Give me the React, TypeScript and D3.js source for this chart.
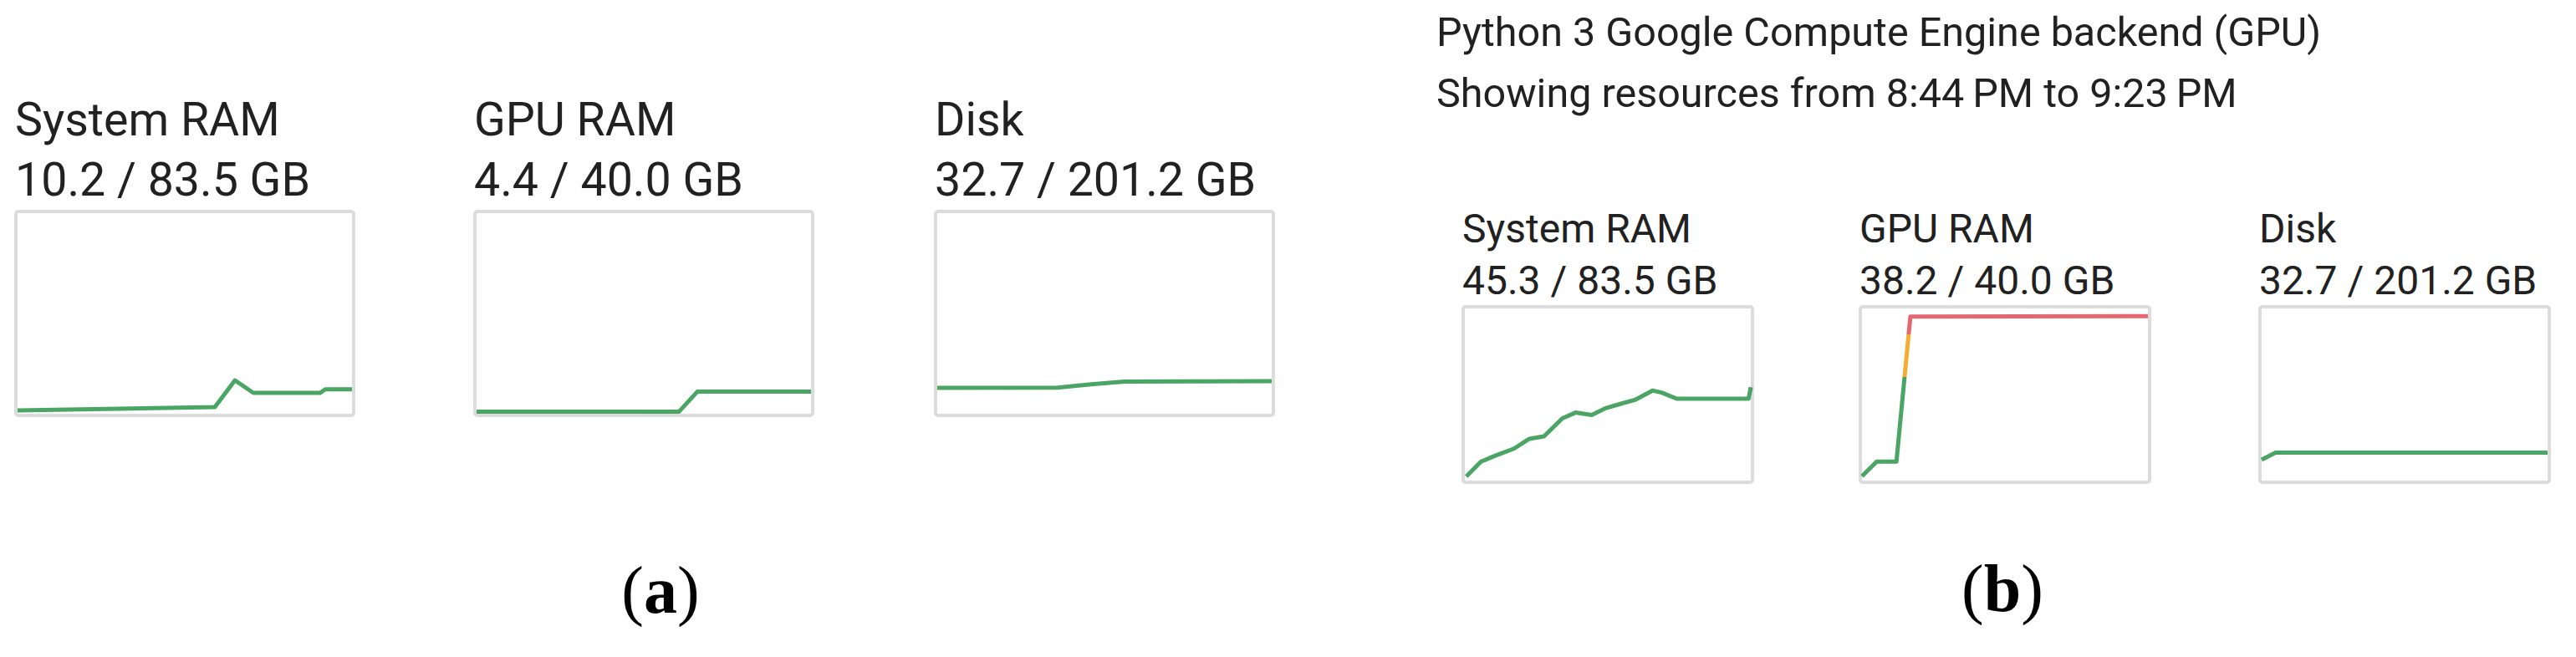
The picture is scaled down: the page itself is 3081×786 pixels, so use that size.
import React, { useRef, useEffect } from 'react';
import * as d3 from 'd3';

// resource names / totals
const resourceNames = ['System RAM', 'GPU RAM', 'Disk'];
const totalsGB = [83.5, 40.0, 201.2];
const usedA = [10.2, 4.4, 32.7];
const usedB = [45.3, 38.2, 32.7];

const sessionTitle = 'Python 3 Google Compute Engine backend (GPU)';
const sessionRange = 'Showing resources from 8:44\u2009PM to 9:23\u2009PM';

// (a) - time as % of the window
const sysRamA_t = [0, 30, 59, 65, 70.5, 90.5, 92, 100];
const sysRamA_v = [1.4, 2.1, 2.8, 13.9, 8.7, 8.7, 10.2, 10.2];
const gpuRamA_t = [0, 60.5, 66, 100];
const gpuRamA_v = [0.4, 0.4, 4.4, 4.4];
const diskA_t = [0, 36, 46, 56, 100];
const diskA_v = [26.0, 26.2, 29.6, 32.3, 32.7];

// (b) - minutes since 8:44 PM
const sysRamB_t = [0.2, 2.2, 4.3, 6.7, 8.8, 10.8, 13.3, 15.1, 17.3, 19.1, 21.4, 23.3, 25.6, 26.9, 28.9, 38.7, 39];
const sysRamB_v = [2.0, 9.2, 12.3, 15.5, 20.3, 21.5, 30.2, 33.0, 31.8, 35.0, 37.4, 39.3, 43.7, 42.6, 39.7, 39.7, 45.3];
const gpuRamB_t = [0, 2.0, 4.7, 6.6, 39];
const gpuRamB_v = [1.0, 4.4, 4.4, 38.1, 38.2];
const diskB_t = [0, 1.9, 39];
const diskB_v = [24.5, 32.7, 32.7];

// usage thresholds (fraction of total) where the line turns orange / red
const warnLevels = [0.6, 0.85];

const seriesA = [
  { t: sysRamA_t, v: sysRamA_v },
  { t: gpuRamA_t, v: gpuRamA_v },
  { t: diskA_t, v: diskA_v },
];
const seriesB = [
  { t: sysRamB_t, v: sysRamB_v },
  { t: gpuRamB_t, v: gpuRamB_v },
  { t: diskB_t, v: diskB_v },
];

const GREEN = '#1e8e3e';
const ORANGE = '#f29900';
const RED = '#e0404d';

function App() {
  const canvas = useRef<HTMLDivElement>(null);

  useEffect(() => {
    const W = 3081;
    const H = 786;

    d3.select(canvas.current).select('svg').remove();
    const svg = d3
      .select(canvas.current)
      .append('svg')
      .attr('width', W)
      .attr('height', H)
      .style('position', 'absolute')
      .style('left', 0)
      .style('top', 0)
      .style('background', '#fff');

    const defs = svg.append('defs');
    const font = 'Roboto, "Noto Sans", sans-serif';
    const ink = '#212121';

    let gid = 0;
    function drawPanel(
      x0: number,
      nameY: number,
      valueY: number,
      boxY: number,
      boxW: number,
      boxH: number,
      fontSize: number,
      i: number,
      used: number,
      s: { t: number[]; v: number[] }
    ) {
      const g = svg.append('g').attr('transform', `translate(${x0},0)`);
      g.append('text')
        .attr('x', -1)
        .attr('y', nameY)
        .attr('font-family', font)
        .attr('font-size', fontSize)
        .attr('fill', ink)
        .text(resourceNames[i]);
      g.append('text')
        .attr('x', -1)
        .attr('y', valueY)
        .attr('font-family', font)
        .attr('font-size', fontSize)
        .attr('fill', ink)
        .text(`${used.toFixed(1)} / ${totalsGB[i].toFixed(1)} GB`);

      g.append('rect')
        .attr('x', 0)
        .attr('y', boxY)
        .attr('width', boxW)
        .attr('height', boxH)
        .attr('rx', 3)
        .attr('fill', '#fff')
        .attr('stroke', '#dcdcdc')
        .attr('stroke-width', 4);

      const inner = 2;
      const x = d3
        .scaleLinear()
        .domain([0, d3.max(s.t) as number])
        .range([inner, boxW - inner]);
      const y = d3
        .scaleLinear()
        .domain([0, totalsGB[i]])
        .range([boxY + boxH - inner, boxY + inner]);

      const id = `lvl${gid++}`;
      const grad = defs
        .append('linearGradient')
        .attr('id', id)
        .attr('gradientUnits', 'userSpaceOnUse')
        .attr('x1', 0)
        .attr('x2', 0)
        .attr('y1', y(0))
        .attr('y2', y(totalsGB[i]));
      const stops: [number, string][] = [
        [0, GREEN],
        [warnLevels[0], GREEN],
        [warnLevels[0], ORANGE],
        [warnLevels[1], ORANGE],
        [warnLevels[1], RED],
        [1, RED],
      ];
      stops.forEach(([o, c]) => grad.append('stop').attr('offset', o).attr('stop-color', c));

      const pts = s.t.map((t, k) => [t, s.v[k]] as [number, number]);
      const line = d3
        .line<[number, number]>()
        .x((d) => x(d[0]))
        .y((d) => y(d[1]));

      g.append('path')
        .datum(pts)
        .attr('d', line)
        .attr('fill', 'none')
        .attr('stroke', `url(#${id})`)
        .attr('stroke-opacity', 0.8)
        .attr('stroke-width', 5)
        .attr('stroke-linejoin', 'round');
    }

    // panel (a)
    const aX = [19, 568, 1119];
    aX.forEach((x0, i) => drawPanel(x0, 162, 234, 253, 404, 244, 55.5, i, usedA[i], seriesA[i]));

    // panel (b)
    svg.append('text')
      .attr('x', 1718)
      .attr('y', 55)
      .attr('font-family', font)
      .attr('font-size', 48.5)
      .attr('fill', ink)
      .text(sessionTitle);
    svg.append('text')
      .attr('x', 1718)
      .attr('y', 128)
      .attr('font-family', font)
      .attr('font-size', 48.5)
      .attr('fill', ink)
      .text(sessionRange);

    const bX = [1750, 2225, 2703];
    bX.forEach((x0, i) => drawPanel(x0, 290, 352, 367, 346, 210, 48, i, usedB[i], seriesB[i]));

    // sub-figure labels
    const caps: [number, number, string][] = [
      [790, 733, 'a'],
      [2395, 731, 'b'],
    ];
    caps.forEach(([cx, cy, l]) => {
      const t = svg.append('text')
        .attr('x', cx)
        .attr('y', cy)
        .attr('text-anchor', 'middle')
        .attr('font-family', '"Liberation Serif", "Times New Roman", serif')
        .attr('font-size', 80)
        .attr('fill', '#000');
      t.append('tspan').text('(');
      t.append('tspan').attr('font-weight', 'bold').text(l);
      t.append('tspan').text(')');
    });
  }, []);

  return <div ref={canvas}></div>;
}

export default App;
